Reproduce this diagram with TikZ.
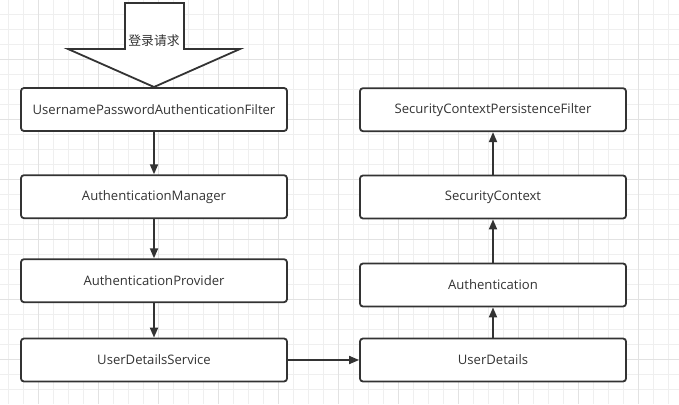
\documentclass[tikz,border=0pt]{standalone}
\usepackage{fontspec}
\setmainfont{Open Sans}
\newfontfamily\cjk{Noto Sans CJK SC}
\usetikzlibrary{arrows.meta}
\definecolor{linegray}{HTML}{333333}
\definecolor{minorgrid}{HTML}{EFEFEF}
\definecolor{majorgrid}{HTML}{E2E2E2}

\begin{document}
\begin{tikzpicture}[x=1pt, y=-1pt,
  box/.style={draw=linegray, line width=1.8pt, fill=white, rounded corners=3pt,
    minimum width=266pt, minimum height=43pt, inner sep=0pt,
    font=\fontsize{13.1}{15}\selectfont, text=linegray},
  link/.style={draw=linegray, line width=1.8pt, -{Triangle[length=10pt,width=8pt]}}]
  \useasboundingbox (0,0) rectangle (679,404);
  % grid
  \foreach \x in {8.3,23.3,...,679} \draw[minorgrid, line width=0.8pt] (\x,0) -- (\x,404);
  \foreach \y in {14.3,29.3,...,404} \draw[minorgrid, line width=0.8pt] (0,\y) -- (679,\y);
  \foreach \x in {38.3,98.3,...,679} \draw[majorgrid, line width=0.8pt] (\x,0) -- (\x,404);
  \foreach \y in {59.3,119.3,...,404} \draw[majorgrid, line width=0.8pt] (0,\y) -- (679,\y);
  % big arrow
  \draw[linegray, line width=1.8pt, fill=white, line join=miter]
    (125,3) -- (184,3) -- (184,49) -- (240,49) -- (154,87) -- (68,49) -- (125,49) -- cycle;
  \node[font=\cjk\fontsize{12.8}{14}\selectfont, text=linegray] (request) at (154,41) {登录请求};
  % left column
  \node[box] (filter) at (154,109.5) {UsernamePasswordAuthenticationFilter};
  \node[box] (manager) at (154,196.7) {AuthenticationManager};
  \node[box] (provider) at (154,280.7) {AuthenticationProvider};
  \node[box] (service) at (154,360) {UserDetailsService};
  % right column
  \node[box] (persist) at (493,109.7) {SecurityContextPersistenceFilter};
  \node[box] (context) at (493,197) {SecurityContext};
  \node[box] (auth) at (493,285) {Authentication};
  \node[box] (details) at (493,360) {UserDetails};
  \draw[link] (filter) -- (manager);
  \draw[link] (manager) -- (provider);
  \draw[link] (provider) -- (service);
  \draw[link] (service) -- (details);
  \draw[link] (details) -- (auth);
  \draw[link] (auth) -- (context);
  \draw[link] (context) -- (persist);
\end{tikzpicture}
\end{document}
